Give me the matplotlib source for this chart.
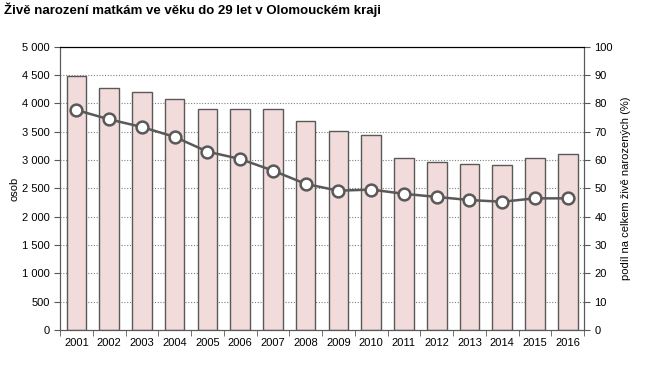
import numpy as np
import matplotlib.pyplot as plt
from matplotlib.ticker import FuncFormatter

# Data
years = [str(y) for y in range(2001, 2017)]
births = [4490, 4276, 4205, 4081, 3905, 3905, 3905, 3693, 3510, 3440,
          3045, 2963, 2927, 2910, 3034, 3110]
share = [77.7, 74.4, 71.7, 68.2, 63.0, 60.4, 56.3, 51.6, 49.2, 49.6,
         48.1, 47.0, 45.9, 45.3, 46.5, 46.5]

plt.rcParams['font.family'] = ['Liberation Sans', 'DejaVu Sans']
plt.rcParams['font.size'] = 8

DARK = '#595959'

fig = plt.figure(figsize=(6.51, 3.78), dpi=100)
ax = fig.add_axes([0.0922, 0.127, 0.805, 0.749])
x = np.arange(len(years))

ax.bar(x, births, width=0.6, color='#F2DCDB', edgecolor=DARK, linewidth=1.0, zorder=2)
ax.set_ylim(0, 5000)
ax.set_yticks(np.arange(0, 5001, 500))
ax.yaxis.set_major_formatter(FuncFormatter(lambda v, p: f"{int(v):,}".replace(",", " ")))
ax.set_xlim(-0.5, len(years) - 0.5)
ax.set_xticks(x)
ax.set_xticklabels(years)
ax.set_xticks(np.arange(-0.5, len(years)), minor=True)
ax.tick_params(axis='x', which='major', length=0, pad=6)
ax.tick_params(axis='x', which='minor', length=4, direction='out', color=DARK)
ax.tick_params(axis='y', length=4, direction='out', color=DARK)
ax.grid(axis='y', linestyle=(0, (1, 1.5)), color='#808080', linewidth=0.8, zorder=0)
ax.set_ylabel('osob', fontsize=8, labelpad=2)
for s in ['left', 'bottom', 'right']:
    ax.spines[s].set_color(DARK)
ax.spines['top'].set_color('black')

ax2 = ax.twinx()
ax2.plot(x, share, color=DARK, linewidth=1.8, marker='o', markersize=8.5,
         markerfacecolor='white', markeredgecolor=DARK, markeredgewidth=1.8, zorder=3)
ax2.set_ylim(0, 100)
ax2.set_yticks(np.arange(0, 101, 10))
ax2.tick_params(axis='y', length=4, direction='out', color=DARK)
ax2.set_ylabel('podíl na celkem živě narozených (%)', fontsize=8, labelpad=6)
for s in ['left', 'bottom', 'right']:
    ax2.spines[s].set_color(DARK)

fig.text(0.006, 0.973, 'Živě narození matkám ve věku do 29 let v Olomouckém kraji',
         fontsize=9.5, fontweight='bold', va='center')

fig.savefig('out.png', dpi=100)
